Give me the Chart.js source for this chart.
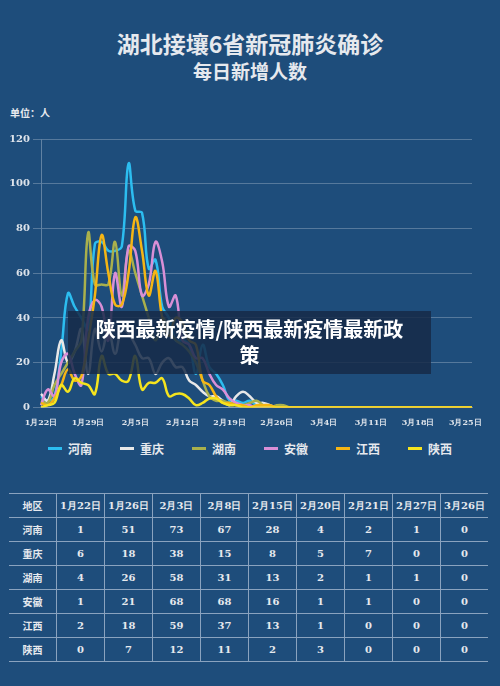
<!DOCTYPE html>
<html><head><meta charset="utf-8">
<script src="https://cdn.jsdelivr.net/npm/chart.js@4"></script>
<style>
body{margin:0;width:500px;height:686px;background:#1e4d7b;position:relative;overflow:hidden;font-family:"Noto Sans CJK SC",sans-serif;color:#e6e9ee}
.t1{position:absolute;top:26px;width:500px;text-align:center;font-size:23px;font-weight:bold}
.t2{position:absolute;top:57px;width:500px;text-align:center;font-size:19px;font-weight:bold}
.unit{position:absolute;top:105px;left:10px;font-size:10px;font-weight:bold}
#wrap{position:absolute;left:0;top:125px;width:500px;height:306px}
#legend{position:absolute;top:440px;left:48px;display:flex;font-size:12px;font-weight:bold}
#legend div{display:flex;align-items:center;width:72px}
#legend span{display:inline-block;width:14px;height:3px;margin-right:6px}
table{position:absolute;left:9px;top:493px;border-collapse:collapse;font-family:"DejaVu Serif",serif;font-size:10px;font-weight:bold}
td{border:1px solid #8aa3bf;border-left-color:#5f7fa3;height:23px;width:47px;text-align:center;padding:0}
td:first-child{font-family:"Noto Sans CJK SC";border-left:none}
tr td:last-child{border-right:none}
.banner{position:absolute;left:68px;top:311px;width:363px;height:63px;background:rgba(22,42,72,0.85);color:#fff;font-size:20px;font-weight:bold;text-align:center;line-height:26px;padding-top:5px;box-sizing:border-box}
</style></head><body>
<div class="t1">湖北接壤6省新冠肺炎确诊</div>
<div class="t2">每日新增人数</div>
<div class="unit">单位：人</div>
<div id="wrap"><canvas id="c"></canvas></div>
<div id="legend"></div>
<table id="tbl"></table>
<div class="banner">陕西最新疫情/陕西最新疫情最新政<br>策</div>
<script>
const provinces = ['河南','重庆','湖南','安徽','江西','陕西'];
const colors = ['#2cbdf0','#e8e8e8','#a9b04c','#d98fd6','#f5b514','#f5e41e'];
const henan   = [5,3,5,25,51,45,40,35,73,74,70,70,72,109,88,87,62,66,45,40,30,30,28,15,28,18,15,10,3,3,2,3,1,1];
const chongqing=[6,3,15,30,20,25,35,15,35,25,35,24,35,33,28,22,22,15,20,22,18,18,12,10,7,5,5,3,1,5,7,5,2,2,1];
const hunan   = [3,2,10,15,20,25,30,78,55,55,55,74,50,70,60,50,40,30,40,35,30,28,25,20,12,5,3,3,2,2,1,2,3,1,0,1,1];
const anhui   = [1,8,5,20,24,15,10,40,48,45,30,60,45,72,70,50,55,74,65,45,50,30,28,22,22,15,10,8,4,2,1,1];
const jiangxi = [2,1,4,10,17,12,14,30,50,77,60,46,46,60,85,70,50,61,40,32,40,38,30,28,12,10,5,2,2,1,1,0,1,1,1];
const shaanxi = [0,1,2,10,7,13,11,10,6,23,15,15,12,12,23,8,11,11,13,5,6,6,4,1,2,4,4,2,1,1];
const tableCols = ['1月22日','1月26日','2月3日','2月8日','2月15日','2月20日','2月21日','2月27日','3月26日'];
const tableRows = [[1,51,73,67,28,4,2,1,0],[6,18,38,15,8,5,7,0,0],[4,26,58,31,13,2,1,1,0],[1,21,68,68,16,1,1,0,0],[2,18,59,37,13,1,0,0,0],[0,7,12,11,2,3,0,0,0]];

const dates = [];
for (let d = new Date(2020,0,22); d <= new Date(2020,2,26); d.setDate(d.getDate()+1))
  dates.push((d.getMonth()+1)+'月'+d.getDate()+'日');
const pad = a => a.concat(Array(dates.length - a.length).fill(0));
const series = [henan,chongqing,hunan,anhui,jiangxi,shaanxi];

new Chart(document.getElementById('c'), {
  type: 'line',
  data: { labels: dates, datasets: series.map((s,i) => ({
    label: provinces[i], data: pad(s), borderColor: colors[i], borderWidth: 2.5,
    pointRadius: 0, tension: 0.4, fill: false
  })).reverse() },
  options: {
    responsive: true, maintainAspectRatio: false, animation: false,
    layout: { padding: { top: 14, right: 28, left: 4 } },
    plugins: { legend: { display: false }, tooltip: { enabled: false } },
    scales: {
      x: { grid: { display: false }, border: { color: 'rgba(255,255,255,0.3)' },
        ticks: { autoSkip: false, maxRotation: 0, color: '#dde3ea', font: { family: 'DejaVu Serif', size: 8, weight: 'bold' },
          callback: (v,i) => i % 7 === 0 ? dates[i] : '' } },
      y: { min: 0, max: 120, afterFit: s => { s.width = 37; },
        grid: { color: 'rgba(255,255,255,0.25)' }, border: { color: 'rgba(255,255,255,0.3)' },
        ticks: { stepSize: 20, color: '#dde3ea', font: { family: 'DejaVu Serif', size: 10, weight: 'bold' } } }
    }
  }
});

document.getElementById('legend').innerHTML = provinces.map((p,i) =>
  `<div><span style="background:${colors[i]}"></span>${p}</div>`).join('');
let html = '<tr><td>地区</td>' + tableCols.map(c => `<td>${c}</td>`).join('') + '</tr>';
tableRows.forEach((r,i) => { html += `<tr><td>${provinces[i]}</td>` + r.map(v => `<td>${v}</td>`).join('') + '</tr>'; });
document.getElementById('tbl').innerHTML = html;
</script>
</body></html>
